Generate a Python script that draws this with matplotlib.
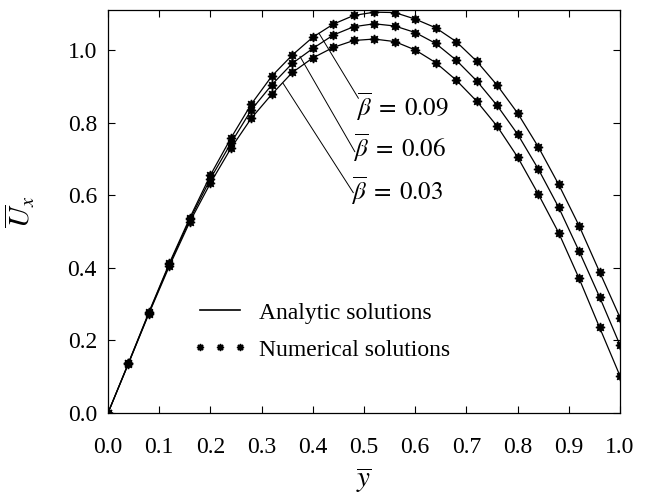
import matplotlib

matplotlib.use('Agg')

import numpy as np

import matplotlib.pyplot as plt

from matplotlib.lines import Line2D

plt.rcParams['font.family'] = ['Liberation Serif', 'DejaVu Serif']
plt.rcParams['mathtext.fontset'] = 'stix'

# y positions of the numerical points
ybar = [0.00, 0.04, 0.08, 0.12, 0.16, 0.20, 0.24, 0.28, 0.32, 0.36, 0.40, 0.44, 0.48,
        0.52, 0.56, 0.60, 0.64, 0.68, 0.72, 0.76, 0.80, 0.84, 0.88, 0.92, 0.96, 1.00]

ux_009 = [0.000, 0.138, 0.278, 0.413, 0.538, 0.655, 0.757, 0.851, 0.928, 0.986, 1.035, 1.071, 1.095,
          1.104, 1.103, 1.085, 1.061, 1.023, 0.969, 0.903, 0.826, 0.734, 0.630, 0.516, 0.389, 0.263]
ux_006 = [0.000, 0.137, 0.276, 0.410, 0.533, 0.645, 0.743, 0.835, 0.904, 0.963, 1.004, 1.041, 1.064,
          1.072, 1.066, 1.048, 1.018, 0.972, 0.915, 0.847, 0.768, 0.673, 0.567, 0.446, 0.320, 0.187]
ux_003 = [0.000, 0.136, 0.274, 0.405, 0.527, 0.633, 0.729, 0.812, 0.878, 0.938, 0.978, 1.007, 1.026,
          1.030, 1.023, 1.000, 0.965, 0.917, 0.859, 0.790, 0.705, 0.604, 0.497, 0.371, 0.236, 0.102]

series = [ux_009, ux_006, ux_003]
labels = ['0.09', '0.06', '0.03']

xticks = [0.0, 0.1, 0.2, 0.3, 0.4, 0.5, 0.6, 0.7, 0.8, 0.9, 1.0]
yticks = [0.0, 0.2, 0.4, 0.6, 0.8, 1.0]

fig = plt.figure(figsize=(6.46, 4.94), dpi=100)
ax = fig.add_axes([108/646, 81/494, 512/646, 403/494])

star = (8, 1, 0)
for u in series:
    ax.plot(ybar, u, color='k', lw=0.9)
    ax.plot(ybar, u, ls='none', marker=star, ms=6.5, color='k')

# leader lines and labels: (start on curve), (end near text), text position
leaders = [((0.412, 1.046), (0.489, 0.867), (0.484, 0.818)),
           ((0.375, 0.982), (0.482, 0.720), (0.478, 0.706)),
           ((0.342, 0.908), (0.479, 0.607), (0.475, 0.587))]
for lab, (p0, p1, pt) in zip(labels, leaders):
    ax.plot([p0[0], p1[0]], [p0[1], p1[1]], color='k', lw=0.7)
    ax.text(pt[0], pt[1], r'$\overline{\beta}\;=\;' + lab + '$', fontsize=18, va='baseline', ha='left')

h1 = Line2D([], [], color='k', lw=1.2)
h2 = Line2D([], [], ls='none', marker=star, ms=5, color='k')
ax.legend([h1, h2], ['Analytic solutions', 'Numerical solutions'], numpoints=3,
          frameon=False, fontsize=17, loc='upper left', bbox_to_anchor=(0.165, 0.275),
          borderaxespad=0, borderpad=0, handlelength=2.3, handletextpad=0.5, labelspacing=0.65)

ax.set_xlim(0, 1.0)
ax.set_ylim(0, 1.11)
ax.set_xticks(xticks)
ax.set_yticks(yticks)
ax.set_xticklabels(['%.1f' % t for t in xticks])
ax.set_yticklabels(['%.1f' % t for t in yticks])
ax.tick_params(direction='in', top=True, right=True, length=5, width=0.8, labelsize=17)
ax.tick_params(axis='x', pad=17)
ax.tick_params(axis='y', pad=8)
for s in ax.spines.values():
    s.set_linewidth(0.9)

ax.set_xlabel(r'$\overline{y}$', fontsize=21, labelpad=6)
ax.set_ylabel(r'$\overline{U}_x$', fontsize=21, labelpad=22)

plt.savefig('out.png', dpi=100)
